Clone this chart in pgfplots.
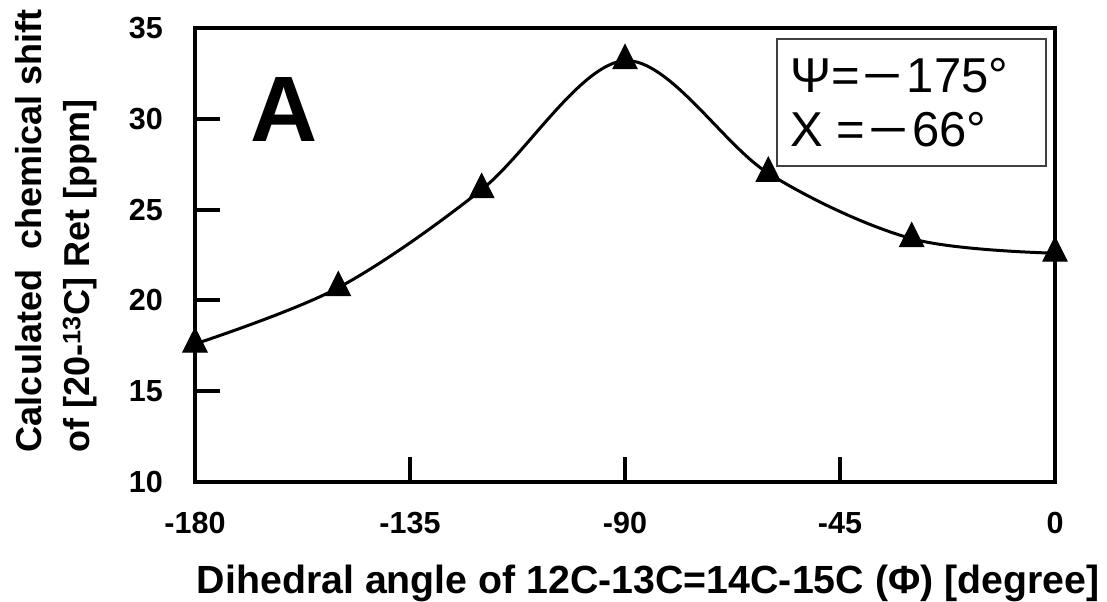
\documentclass[border=0pt]{standalone}
\usepackage{fontspec}
\setmainfont{Liberation Sans}
\usepackage{graphicx}
\usepackage{pgfplots}
\pgfplotsset{compat=1.18}
\newcommand{\longminus}{\scalebox{1.4}[1]{−}}
\begin{document}
\begin{tikzpicture}
\begin{axis}[
  scale only axis,
  width=860pt, height=454pt,
  xmin=-180, xmax=0, ymin=10, ymax=35,
  xtick={-180,-135,-90,-45,0},
  ytick={10,15,...,35},
  tick pos=left,
  tick align=inside,
  major tick length=25pt,
  major tick style={black, line width=4pt},
  axis line style={line width=4.5pt},
  /pgf/number format/assume math mode=true,
  ticklabel style={font=\fontsize{30.5}{30}\selectfont\bfseries, inner sep=0pt},
  xticklabel style={anchor=base, yshift=-51pt},
  yticklabel style={anchor=east, xshift=-32pt},
  xlabel={Dihedral angle of 12C-13C=14C-15C (Φ) [degree]},
  xlabel style={font=\fontsize{39.3}{40}\selectfont\bfseries,
    at={(axis description cs:0.527,-0.2445)}, anchor=base, inner sep=0pt},
  ylabel={Calculated\ \ chemical shift\\of [20-\textsuperscript{13}C] Ret [ppm]},
  ylabel style={font=\fontsize{36}{48}\selectfont\bfseries, align=left,
    at={(axis description cs:-0.2093,0.553)}, anchor=north, inner sep=0pt},
  clip=false,
]
\coordinate (o) at (rel axis cs:0,0);
\addplot[black, line width=3pt, smooth, tension=0.55,
  mark=triangle*, mark size=14pt,
  mark options={solid, fill=black, line width=1pt, yscale=1.15}]
  coordinates {
    (-180,17.6) (-150,20.7) (-120,26.1) (-90,33.2)
    (-60,27.0) (-30,23.4) (0,22.6)
  };
% panel letter
\node[anchor=base west, inner sep=0pt, font=\fontsize{93}{93}\selectfont\bfseries]
  at (axis description cs:0.064,0.749) {A};
% parameter box
\draw[line width=1.5pt, black!75]
  (axis description cs:0.6767,0.696) rectangle (axis description cs:0.9895,0.9758);
\node[anchor=base west, inner sep=0pt, font=\fontsize{49}{49}\selectfont]
  at (axis description cs:0.6919,0.859) {Ψ=\kern3pt\longminus\kern4pt175°};
\node[anchor=base west, inner sep=0pt, font=\fontsize{49}{49}\selectfont]
  at (axis description cs:0.6919,0.7379) {X =\kern3pt\longminus\kern4pt66°};
\end{axis}
\path[use as bounding box] (o) ++(-195pt,-117pt) rectangle ++(1107pt,599pt);
\end{tikzpicture}
\end{document}
